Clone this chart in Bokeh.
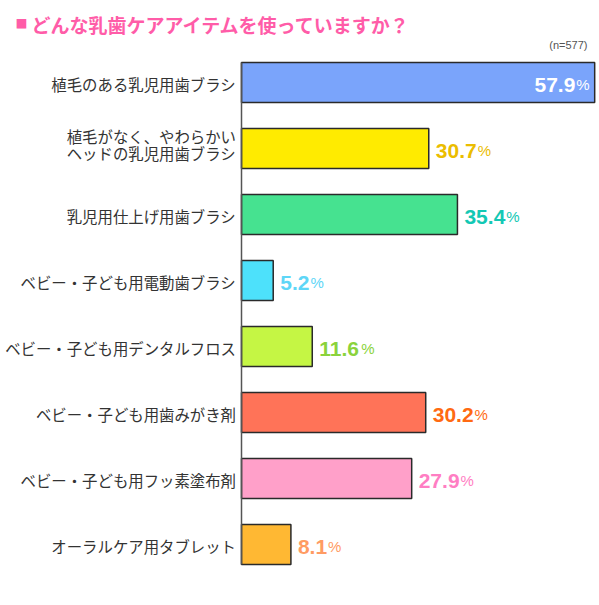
from bokeh.plotting import figure
from bokeh.models import Range1d, Label, ColumnDataSource
from bokeh.core.properties import value
from bokeh.embed import file_html
from bokeh.resources import INLINE

# ---- data ----
categories = [
    "植毛のある乳児用歯ブラシ",
    "植毛がなく、やわらかい\nヘッドの乳児用歯ブラシ",
    "乳児用仕上げ用歯ブラシ",
    "ベビー・子ども用電動歯ブラシ",
    "ベビー・子ども用デンタルフロス",
    "ベビー・子ども用歯みがき剤",
    "ベビー・子ども用フッ素塗布剤",
    "オーラルケア用タブレット",
]
values = [57.9, 30.7, 35.4, 5.2, 11.6, 30.2, 27.9, 8.1]
bar_colors = ["#7AA4FB", "#FFEB00", "#46E290", "#4DE1FB",
              "#C5F644", "#FF7358", "#FFA0C9", "#FFB833"]
value_colors = ["#FFFFFF", "#EBBD00", "#13C8B4", "#5ED6F7",
                "#8AD33C", "#FF6A12", "#FF7EC3", "#FF9B63"]
title_text = "どんな乳歯ケアアイテムを使っていますか？"
n_text = "(n=577)"

# ---- layout ----
W, H = 599, 605
PX_PER_UNIT_X = 6.1
ZERO_PX = 241
x0 = -ZERO_PX / PX_PER_UNIT_X
x1 = x0 + W / PX_PER_UNIT_X
ROW = 66.0
FIRST = 82.0
y_end = -FIRST / ROW
y_start = y_end + H / ROW
BAR_H = 40 / ROW

p = figure(width=W, height=H, output_backend="svg", toolbar_location=None,
           x_range=Range1d(x0, x1), y_range=Range1d(y_start, y_end),
           min_border=0, min_border_left=0, min_border_right=0,
           min_border_top=0, min_border_bottom=0)
p.axis.visible = False
p.grid.visible = False
p.outline_line_color = None
p.background_fill_color = "white"
p.border_fill_color = "white"

idx = list(range(len(categories)))
src = ColumnDataSource(dict(y=idx, right=values, color=bar_colors))
p.hbar(y="y", left=0, right="right", height=BAR_H, source=src,
       fill_color="color", line_color="#2a2a2a", line_width=1.5)

# axis line
p.segment(x0=[0], y0=[idx[0] - BAR_H / 2], x1=[0], y1=[idx[-1] + BAR_H / 2],
          line_color="#555555", line_width=1.5)

# category labels
lx, ly, lt, lo = [], [], [], []
for i, c in enumerate(categories):
    lines = c.split("\n")
    if len(lines) == 1:
        lx.append(-0.9); ly.append(i); lt.append(lines[0]); lo.append(1)
    else:
        offs = [-13, 4]
        for ln, o in zip(lines, offs):
            lx.append(-0.9); ly.append(i); lt.append(ln); lo.append(o)
p.text(x=lx, y=ly, text=lt, y_offset=lo, text_align="right",
       text_baseline="middle", text_font=value("Noto Sans CJK JP"),
       text_font_size="15.4px", text_color="#333333")

# value labels
NUM_SIZE = 21
PCT_SIZE = 15
YOFF = 2

def num_width(s):
    return sum((0.278 if ch == "." else 0.556) * NUM_SIZE for ch in s)

pct_w = 0.889 * PCT_SIZE
for i, v in enumerate(values):
    s = f"{v:.1f}"
    inside = (i == 0)
    if inside:
        pct_off = -5
        p.text(x=[v], y=[i], text=["%"], x_offset=pct_off, y_offset=YOFF,
               text_align="right", text_baseline="alphabetic",
               text_font=value("Liberation Sans"), text_font_size=f"{PCT_SIZE}px",
               text_color=value_colors[i])
        p.text(x=[v], y=[i], text=[s], x_offset=pct_off - pct_w - 1, y_offset=YOFF,
               text_align="right", text_baseline="alphabetic",
               text_font=value("Liberation Sans"), text_font_size=f"{NUM_SIZE}px",
               text_font_style="bold", text_color=value_colors[i])
    else:
        off = 7
        p.text(x=[v], y=[i], text=[s], x_offset=off, y_offset=YOFF,
               text_align="left", text_baseline="alphabetic",
               text_font=value("Liberation Sans"), text_font_size=f"{NUM_SIZE}px",
               text_font_style="bold", text_color=value_colors[i])
        p.text(x=[v], y=[i], text=["%"], x_offset=off + num_width(s) + 1, y_offset=YOFF,
               text_align="left", text_baseline="alphabetic",
               text_font=value("Liberation Sans"), text_font_size=f"{PCT_SIZE}px",
               text_color=value_colors[i])

# title
p.add_layout(Label(x=15, y=H - 22.5, x_units="screen", y_units="screen",
                   text="■", text_font="Noto Sans CJK JP", text_font_size="12px",
                   text_color="#FF5CA8", text_baseline="middle", text_align="left"))
p.add_layout(Label(x=31, y=H - 24, x_units="screen", y_units="screen",
                   text=title_text, text_font="Noto Sans CJK JP",
                   text_font_size="19px", text_font_style="bold",
                   text_color="#FF5CA8", text_baseline="middle", text_align="left"))
p.add_layout(Label(x=587, y=H - 44, x_units="screen", y_units="screen",
                   text=n_text, text_font="Liberation Sans", text_font_size="11px",
                   text_color="#555555", text_baseline="middle", text_align="right"))

open("out.html", "w").write(file_html(p, INLINE))
